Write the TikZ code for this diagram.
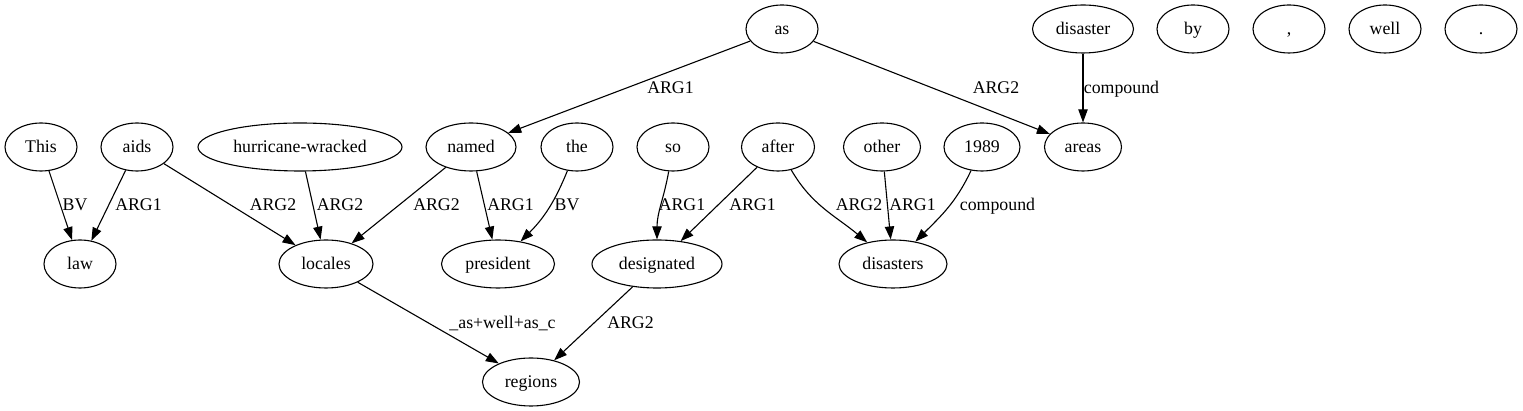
\documentclass[tikz,border=0pt]{standalone}
\usepackage{fontspec}
\setmainfont{Liberation Serif}
\usetikzlibrary{shapes.geometric,arrows.meta}
\begin{document}
\begin{tikzpicture}[x=1pt,y=1pt,
  tok/.style={ellipse,draw,line width=1.1pt,inner sep=0pt,minimum height=48pt,minimum width=72pt,
    text height=16pt,text depth=4pt,font=\fontsize{17.8pt}{20pt}\selectfont},
  lbl/.style={anchor=base,inner sep=0pt,font=\fontsize{17.8pt}{20pt}\selectfont},
  arc/.style={line width=1.1pt,-{Triangle[length=13pt,width=9.3pt]}}]
  \useasboundingbox (0,0) rectangle (1523,411);
  \node[tok] (as) at (782,382) {as};
  \node[tok,minimum width=101pt] (disaster) at (1083,382) {disaster};
  \node[tok] (by) at (1193,382) {by};
  \node[tok] (comma) at (1289,382) {,};
  \node[tok] (well) at (1385,382) {well};
  \node[tok] (period) at (1481,382) {.};
  \node[tok] (this) at (41,264) {This};
  \node[tok] (aids) at (137,264) {aids};
  \node[tok,minimum width=204pt] (hurricane) at (300,264) {hurricane-wracked};
  \node[tok,minimum width=90pt] (named) at (471,264) {named};
  \node[tok] (the) at (577,264) {the};
  \node[tok] (so) at (673,264) {so};
  \node[tok,minimum width=73pt] (after) at (778,264) {after};
  \node[tok,minimum width=77pt] (other) at (882,264) {other};
  \node[tok,minimum width=76pt] (n1989) at (982,264) {1989};
  \node[tok,minimum width=77pt] (areas) at (1083,264) {areas};
  \node[tok] (law) at (80,147) {law};
  \node[tok,minimum width=94pt] (locales) at (326,147) {locales};
  \node[tok,minimum width=113pt] (president) at (498,147) {president};
  \node[tok,minimum width=130pt] (designated) at (657,147) {designated};
  \node[tok,minimum width=108pt] (disasters) at (893,147) {disasters};
  \node[tok,minimum width=97pt] (regions) at (531,29) {regions};

  \draw[arc] (as) -- (named);
  \draw[arc] (as) -- (areas);
  \draw[arc] (disaster) -- (areas);
  \draw[arc] (this) -- (law);
  \draw[arc] (aids) -- (law);
  \draw[arc] (aids) -- (locales);
  \draw[arc] (hurricane) -- (locales);
  \draw[arc] (named) -- (locales);
  \draw[arc] (named) -- (president);
  \draw[arc] (the) to[out=-112,in=45] (president);
  \draw[arc] (so) to[out=-100,in=90] (designated);
  \draw[arc] (after) -- (designated);
  \draw[arc] (after) to[out=-60,in=140] (disasters);
  \draw[arc] (other) -- (disasters);
  \draw[arc] (n1989) to[out=-115,in=45] (disasters);
  \draw[arc] (locales) -- (regions);
  \draw[arc] (designated) -- (regions);

  \node[lbl] (l-as-named) at (670.5,317) {ARG1};
  \node[lbl] (l-as-areas) at (996,317) {ARG2};
  \node[lbl] (l-disaster) at (1121.5,317) {compound};
  \node[lbl] (l-this) at (75,200) {BV};
  \node[lbl] (l-aids-law) at (138.5,200) {ARG1};
  \node[lbl] (l-aids-loc) at (273,200) {ARG2};
  \node[lbl] (l-hurricane) at (340,200) {ARG2};
  \node[lbl] (l-named-loc) at (436.5,200) {ARG2};
  \node[lbl] (l-named-pres) at (510.5,200) {ARG1};
  \node[lbl] (l-the) at (567,200) {BV};
  \node[lbl] (l-so) at (682,200) {ARG1};
  \node[lbl] (l-after-des) at (752.5,200) {ARG1};
  \node[lbl] (l-after-dis) at (859,200) {ARG2};
  \node[lbl] (l-other) at (912.5,200) {ARG1};
  \node[lbl] (l-1989) at (997.5,200) {compound};
  \node[lbl] (l-locales) at (502.5,82) {\_as+well+as\_c};
  \node[lbl] (l-designated) at (630.5,82) {ARG2};
\end{tikzpicture}
\end{document}
